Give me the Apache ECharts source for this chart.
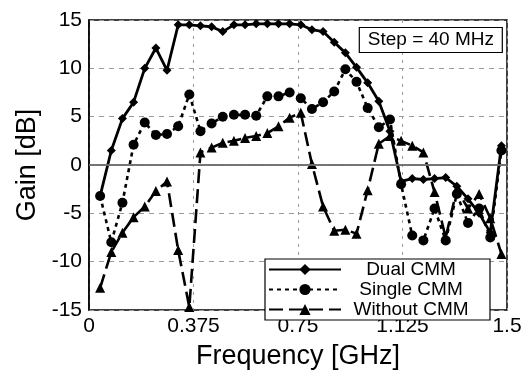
<!DOCTYPE html>
<html>
<head>
<meta charset="utf-8">
<script src="https://cdn.jsdelivr.net/npm/echarts@6/dist/echarts.min.js"></script>
<style>html,body{margin:0;padding:0;background:#fff}#c{width:531px;height:375px}</style>
</head>
<body>
<div id="c"></div>
<script>
// Frequency points (GHz), step = 40 MHz
var freq = [0.04,0.08,0.12,0.16,0.20,0.24,0.28,0.32,0.36,0.40,0.44,0.48,0.52,0.56,0.60,0.64,0.68,0.72,0.76,0.80,0.84,0.88,0.92,0.96,1.00,1.04,1.08,1.12,1.16,1.20,1.24,1.28,1.32,1.36,1.40,1.44,1.48];
// Gain (dB)
var dualCMM = [-3.2,1.5,4.8,6.5,10.0,12.1,9.8,14.5,14.5,14.4,14.3,13.8,14.5,14.5,14.6,14.6,14.6,14.6,14.5,14.0,13.8,12.7,11.6,10.1,8.5,6.6,3.5,-1.7,-1.4,-1.5,-1.4,-1.3,-2.2,-3.5,-5.0,-7.0,2.0];
var singleCMM = [-3.2,-8.0,-3.9,2.1,4.4,3.1,3.2,4.0,7.3,3.5,4.3,5.0,5.2,5.2,5.1,7.1,7.1,7.5,6.9,5.8,6.5,7.6,9.9,8.6,5.9,3.9,4.7,-2.0,-7.3,-7.8,-4.5,-7.8,-3.0,-6.0,-4.5,-7.5,1.5];
var withoutCMM = [-12.7,-9.0,-7.0,-5.4,-4.3,-2.7,-1.7,-8.8,-14.7,1.3,1.8,2.3,2.5,2.8,3.0,3.3,4.0,4.9,5.4,0.1,-4.3,-6.8,-6.7,-7.1,-2.6,2.2,3.0,2.5,2.0,1.3,-2.8,-7.5,-2.5,-4.5,-3.0,-5.5,-9.2];
var seriesNames = ['Dual CMM','Single CMM','Without CMM'];
var xTicks = [0,0.375,0.75,1.125,1.5];
var yTicks = [-15,-10,-5,0,5,10,15];

function pairs(ys){ return freq.map(function(f,i){ return [f, ys[i]]; }); }

var FONT = "'Liberation Sans', Arial, Helvetica, sans-serif";
var chart = echarts.init(document.getElementById('c'), null, {renderer:'canvas'});
chart.setOption({
  animation: false,
  backgroundColor: '#fff',
  title: {
    text: 'Step = 40 MHz',
    right: 28, top: 27,
    padding: [3,9,3,9],
    borderColor: '#000', borderWidth: 1.2,
    backgroundColor: '#fff',
    textStyle: {fontFamily: FONT, fontSize: 19, fontWeight: 'normal', color: '#000', lineHeight: 20}
  },
  grid: {left: 89, right: 24, top: 20, bottom: 59, show: true, borderColor: '#000', borderWidth: 1.5, backgroundColor: 'transparent'},
  legend: {
    data: seriesNames,
    orient: 'vertical',
    left: 265, top: 259,
    padding: [1,14,1,3],
    itemGap: 1,
    itemWidth: 72, itemHeight: 14,
    borderColor: '#000', borderWidth: 1.2,
    backgroundColor: '#fff',
    formatter: function(n){ return '{t|' + n + '}'; },
    textStyle: {
      fontFamily: FONT, fontSize: 19, color: '#000', lineHeight: 15,
      rich: {t: {fontFamily: FONT, fontSize: 19, color: '#000', width: 130, align: 'center', lineHeight: 15, height: 15}}
    }
  },
  xAxis: {
    type: 'value', min: 0, max: 1.5, interval: 0.375,
    name: 'Frequency [GHz]', nameLocation: 'middle', nameGap: 33,
    nameTextStyle: {fontFamily: FONT, fontSize: 27, color: '#000'},
    axisLine: {show: true, lineStyle: {color: '#000', width: 1.5}},
    axisTick: {show: false},
    axisLabel: {fontFamily: FONT, fontSize: 21, color: '#000', margin: 6,
      formatter: function(v){ var i = xTicks.indexOf(Math.round(v*1000)/1000); return i>=0 ? String(xTicks[i]) : ''; }},
    splitLine: {show: true, lineStyle: {color: '#9a9a9a', width: 1, type: [3,5]}}
  },
  yAxis: {
    type: 'value', min: -15, max: 15, interval: 5,
    name: 'Gain [dB]', nameLocation: 'middle', nameGap: 47,
    nameTextStyle: {fontFamily: FONT, fontSize: 27, color: '#000'},
    axisLine: {show: true, lineStyle: {color: '#000', width: 1.5}},
    axisTick: {show: false},
    axisLabel: {fontFamily: FONT, fontSize: 21, color: '#000', margin: 7,
      formatter: function(v){ return yTicks.indexOf(v)>=0 ? String(v) : ''; }},
    splitLine: {show: true, lineStyle: {color: '#9a9a9a', width: 1, type: [5,5]}}
  },
  series: [
    {
      name: seriesNames[0], type: 'line', data: pairs(dualCMM),
      symbol: 'diamond', symbolSize: 9, z: 4,
      lineStyle: {color: '#000', width: 2.8, type: 'solid'},
      itemStyle: {color: '#000'},
      markLine: {silent: true, symbol: 'none', label: {show: false},
        lineStyle: {color: '#8a8a8a', width: 1.6, type: 'solid'},
        data: [{yAxis: 0}]}
    },
    {
      name: seriesNames[1], type: 'line', data: pairs(singleCMM),
      symbol: 'circle', symbolSize: 10, z: 3,
      lineStyle: {color: '#000', width: 2.6, type: [4,4]},
      itemStyle: {color: '#000'}
    },
    {
      name: seriesNames[2], type: 'line', data: pairs(withoutCMM),
      symbol: 'triangle', symbolSize: 10, z: 2,
      lineStyle: {color: '#000', width: 2.6, type: [14,6]},
      itemStyle: {color: '#000'}
    }
  ]
});
</script>
</body>
</html>
